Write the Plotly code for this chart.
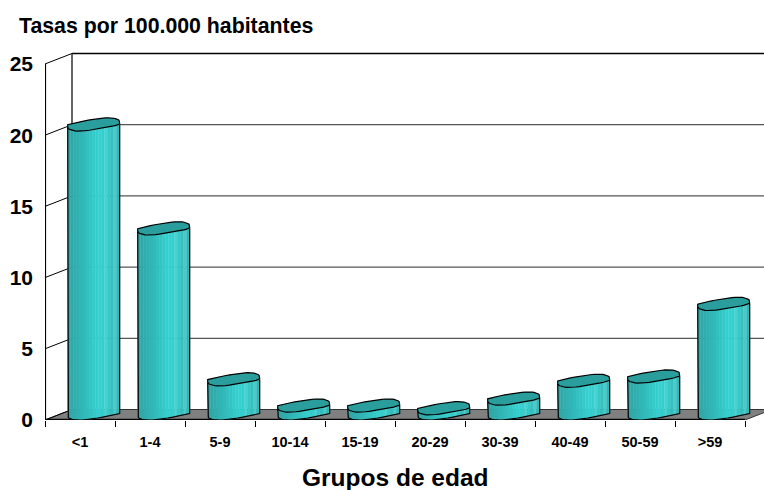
import numpy as np
import plotly.graph_objects as go

categories = ["<1", "1-4", "5-9", "10-14", "15-19", "20-29", "30-39", "40-49", "50-59", ">59"]
rates = [20.3, 13.0, 2.4, 0.56, 0.56, 0.37, 1.05, 2.3, 2.6, 7.7]
y_ticks = [0, 5, 10, 15, 20, 25]
shades = ["#2ea6a6", "#2faaaa", "#30aeae", "#31b2b2", "#31b6b6", "#32baba", "#33bfbf", "#33c4c4",
          "#34caca", "#35cfcf", "#36d2d2", "#36cfcf", "#48d2d2", "#36c8c8", "#35c0c0", "#4cc9c9", "#33b6b6"]

# plot geometry (pixels per data unit and oblique depth)
W, H = 764, 490
L, R, T, B = 45, 745, 64, 420.5
TOP_PAD = 14
px = (R - L) / 10
py = (B - T) / 25
DX = 27 / px
DY = 10.5 / py
BASE = 6.5 / py
BX = 13.7 / px
FONT = "Liberation Sans, Arial, sans-serif"

# column section: a slanted rounded hexagon, described in pixels around its centre
half = np.array([[-26, -0.5], [-26, -5], [-13, -7.6], [26, -0.5]], dtype=float)
sec = np.vstack([half, -half])
for _ in range(3):
    nxt = np.roll(sec, -1, axis=0)
    sec = np.column_stack([0.75 * sec + 0.25 * nxt, 0.25 * sec + 0.75 * nxt]).reshape(-1, 2)
i0 = min(np.where(sec[:, 0] == sec[:, 0].min())[0], key=lambda j: sec[j, 1])
sec = np.roll(sec, -i0, axis=0)
i1 = min(np.where(sec[:, 0] == sec[:, 0].max())[0], key=lambda j: sec[j, 1])
low = sec[: i1 + 1]
xlow, ylow = low[:, 0], low[:, 1]
sx, sy = sec[:, 0] / px, sec[:, 1] / py

fig = go.Figure()


def line(xs, ys, color="#000000", width=1):
    fig.add_trace(go.Scatter(x=xs, y=ys, mode="lines", cliponaxis=False, hoverinfo="skip",
                             line=dict(color=color, width=width), showlegend=False))


# floor
fig.add_trace(go.Scatter(x=[-0.5, 9.5, 9.5 + DX, -0.5 + DX, -0.5], y=[0, 0, DY, DY, 0], mode="lines",
                         fill="toself", fillcolor="#808080", cliponaxis=False, hoverinfo="skip",
                         line=dict(color="#333333", width=1), showlegend=False))
# walls and grid
line([-0.5, -0.5], [0, 25], width=2.2)
line([-0.5 + DX, -0.5 + DX], [DY, 25 + DY], width=1.2)
for v in y_ticks:
    line([-0.5, -0.5 + DX], [v, v + DY], width=1)
    if v > 0:
        line([-0.5 + DX, 9.5 + DX], [v + DY, v + DY], color="#000000" if v == 25 else "#555555", width=1.3)
line([-0.5, 9.5], [0, 0], width=2.4)

# columns
edges = np.linspace(xlow[0], xlow[-1], len(shades) + 1)
for k, c in enumerate(shades):
    xs, ys = [], []
    sub = np.linspace(edges[k], edges[k + 1], 4)
    off = np.interp(sub, xlow, ylow) / py
    for i, v in enumerate(rates):
        cx = i + BX + sub / px
        xs += list(cx) + list(cx[::-1]) + [cx[0], None]
        ys += list(BASE + off) + list((v + BASE + off)[::-1]) + [BASE + off[0], None]
    fig.add_trace(go.Scatter(x=xs, y=ys, mode="lines", fill="toself", fillcolor=c, cliponaxis=False,
                             hoverinfo="skip", line=dict(color=c, width=0.4), showlegend=False))
for i, v in enumerate(rates):
    fig.add_trace(go.Scatter(x=list(i + BX + sx) + [i + BX + sx[0]], y=list(v + BASE + sy) + [v + BASE + sy[0]],
                             mode="lines", fill="toself", fillcolor="#2a9d9d", cliponaxis=False,
                             hoverinfo="skip", line=dict(color="#000000", width=1.2), showlegend=False))
    ox = i + BX + xlow / px
    oy = BASE + ylow / py
    line([ox[0]] + list(ox) + [ox[-1]], [v + BASE + ylow[0] / py] + list(oy) + [v + BASE + ylow[-1] / py], width=1.2)

fig.update_layout(
    width=W, height=H, margin=dict(l=L, r=0, t=T - TOP_PAD, b=H - B),
    paper_bgcolor="white", plot_bgcolor="rgba(0,0,0,0)", showlegend=False,
    font=dict(family=FONT, color="#000000"),
    title=dict(text="<b>Tasas por 100.000 habitantes</b>", x=19 / W, xref="container", xanchor="left",
               y=1 - 26 / H, yref="container", yanchor="middle", font=dict(size=21.3)),
    xaxis=dict(range=[-0.5, -0.5 + (W - L) / px], tickmode="array", tickvals=list(range(10)), ticktext=categories,
               ticks="", showgrid=False, zeroline=False, showline=False,
               tickfont=dict(size=14.5, family=FONT, weight="bold"), ticklabelstandoff=11,
               minor=dict(tickmode="array", tickvals=[i - 0.5 for i in range(11)], ticks="outside", ticklen=6,
                          tickcolor="#000000", tickwidth=1)),
    yaxis=dict(range=[0, 25 + TOP_PAD / py], tickmode="array", tickvals=y_ticks, ticks="", showgrid=False,
               zeroline=False, showline=False, ticklabelstandoff=11,
               tickfont=dict(size=21, family=FONT, weight="bold")),
    annotations=[dict(text="<b>Grupos de edad</b>", x=4.5, y=0, xref="x", yref="paper", yanchor="middle",
                      yshift=-57.5, showarrow=False, font=dict(size=24.5, family=FONT))],
)
fig.write_html("out.html", config=dict(displayModeBar=False),
               post_script="document.body.style.margin='0';")
